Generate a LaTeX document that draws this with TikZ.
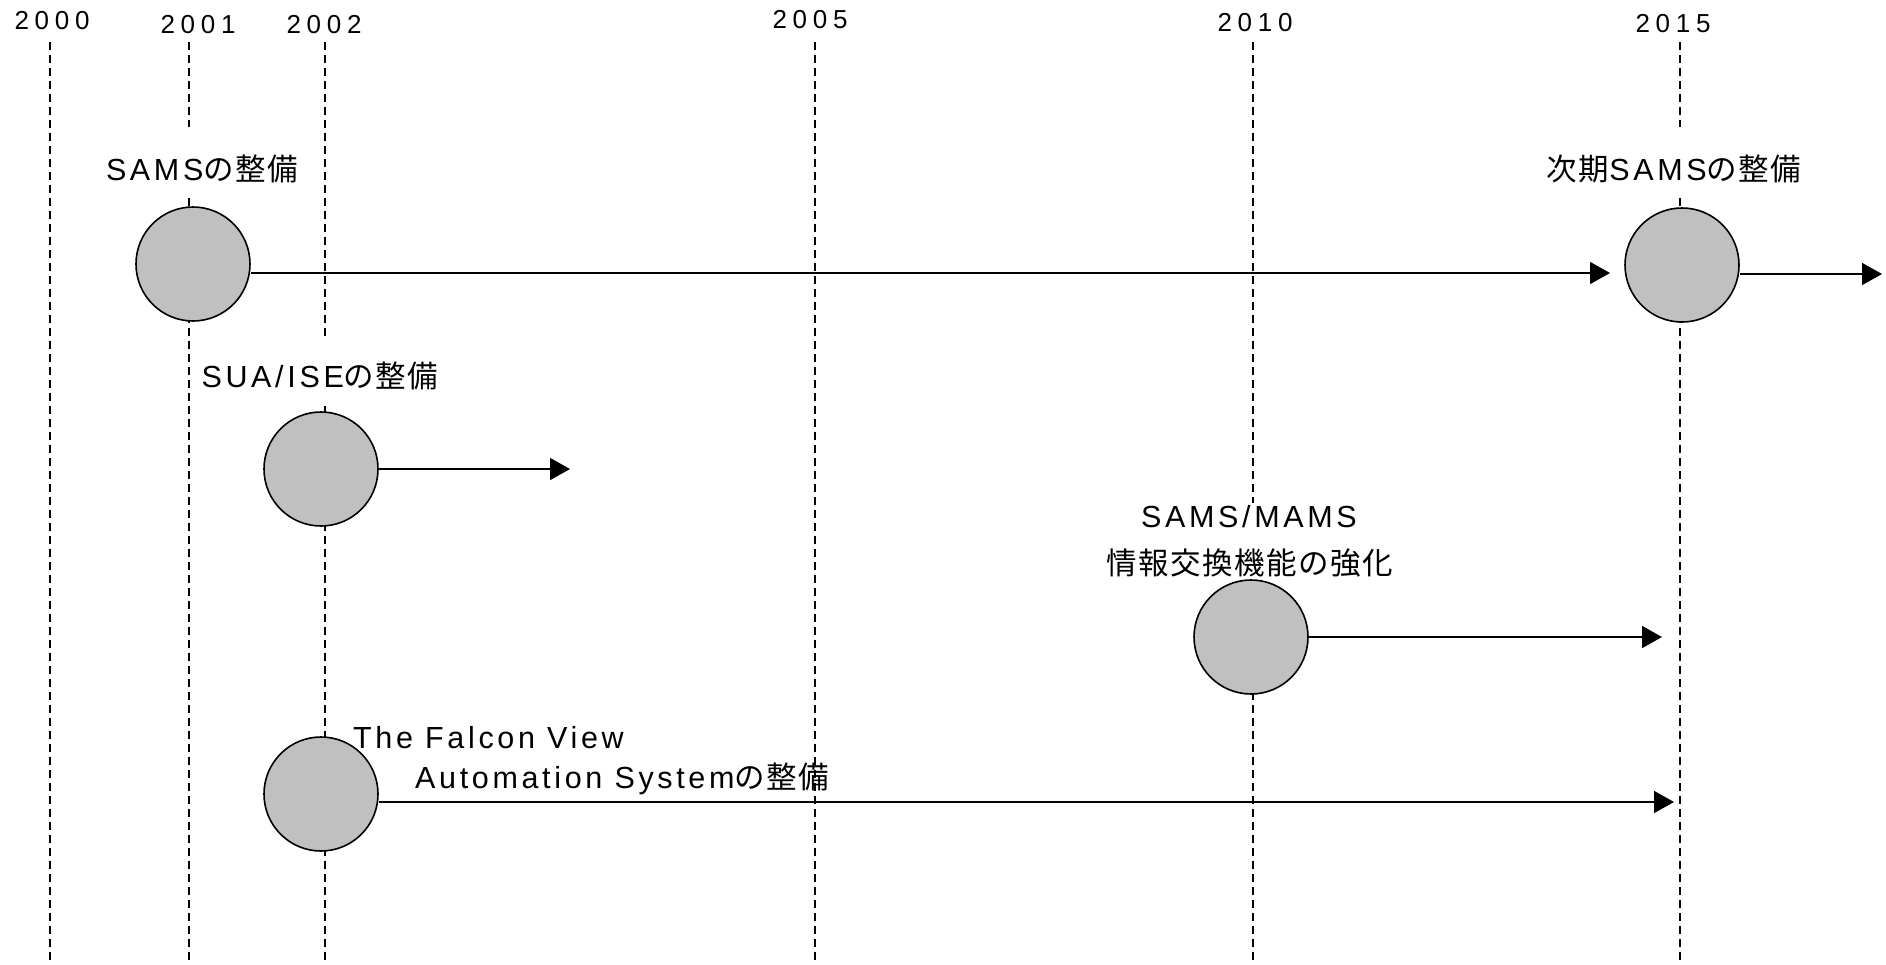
\documentclass[tikz,border=0pt]{standalone}
\usepackage{fontspec}
\usetikzlibrary{arrows.meta}
\setmainfont{Liberation Sans}[LetterSpace=12]
\newfontfamily\yearfont{Liberation Sans}[LetterSpace=22]
\newfontfamily\cjk{Noto Sans CJK JP}[LetterSpace=5]
\newcommand\J[1]{{\cjk #1}}
\definecolor{disc}{HTML}{C0C0C0}
\tikzset{
  yearlbl/.style={font=\yearfont\fontsize{26}{30}\selectfont, inner sep=0pt, anchor=base},
  lbl/.style={font=\fontsize{30.5}{36}\selectfont, inner sep=0pt},
  gridline/.style={line width=2pt, dash pattern=on 8pt off 5pt},
  disk/.style={circle, draw=black, line width=1.6pt, fill=disc, minimum size=114pt, inner sep=0pt},
  arr/.style={line width=1.6pt, -{Triangle[length=20pt,width=22pt]}},
  mask/.style={fill=white}
}
\begin{document}
\begin{tikzpicture}[x=1pt,y=-1pt]
\useasboundingbox (0,0) rectangle (1886,964);
% year labels
\node[yearlbl] (y2000) at (52,29) {2000};
\node[yearlbl] (y2001) at (198,33) {2001};
\node[yearlbl] (y2002) at (324,33) {2002};
\node[yearlbl] (y2005) at (810,28) {2005};
\node[yearlbl] (y2010) at (1255,31) {2010};
\node[yearlbl] (y2015) at (1673,32) {2015};
% dashed year lines
\foreach \x in {50,189,325,815,1253,1680}
  \draw[gridline] (\x,42) -- (\x,964);
% white masks behind labels
\fill[mask] (100,127) rectangle (305,198);
\fill[mask] (1540,127) rectangle (1808,198);
\fill[mask] (198,337) rectangle (444,405);
\fill[mask] (1100,503) rectangle (1400,580);
% labels
\node[lbl, anchor=base] (lsams) at (202,180) {SAMS\J{の整備}};
\node[lbl, anchor=base] (lnext) at (1674,180) {\J{次期}SAMS\J{の整備}};
\node[lbl, anchor=base] (lsua) at (320,387) {SUA/ISE\J{の整備}};
\node[lbl, anchor=base] (lmams1) at (1249,527) {SAMS/MAMS};
\node[lbl, anchor=base] (lmams2) at (1250,574) {\J{情報交換機能の強化}};
\node[lbl, anchor=base west] (lfal1) at (353,748) {The Falcon View};
\node[lbl, anchor=base west] (lfal2) at (415,788) {Automation System\J{の整備}};
% discs
\node[disk] (sams) at (193,264) {};
\node[disk] (next) at (1682,265) {};
\node[disk] (sua) at (321,469) {};
\node[disk] (mams) at (1251,637) {};
\node[disk] (falcon) at (321,794) {};
% arrow ends
\coordinate (e1) at (1610,273);
\coordinate (e2) at (1882,274);
\coordinate (e3) at (570,469);
\coordinate (e4) at (1662,637);
\coordinate (e5) at (1674,802);
% arrows
\draw[arr] (sams.east |- e1) -- (e1);
\draw[arr] (next.east |- e2) -- (e2);
\draw[arr] (sua.east) -- (e3);
\draw[arr] (mams.east) -- (e4);
\draw[arr] (falcon.east |- e5) -- (e5);
\end{tikzpicture}
\end{document}
